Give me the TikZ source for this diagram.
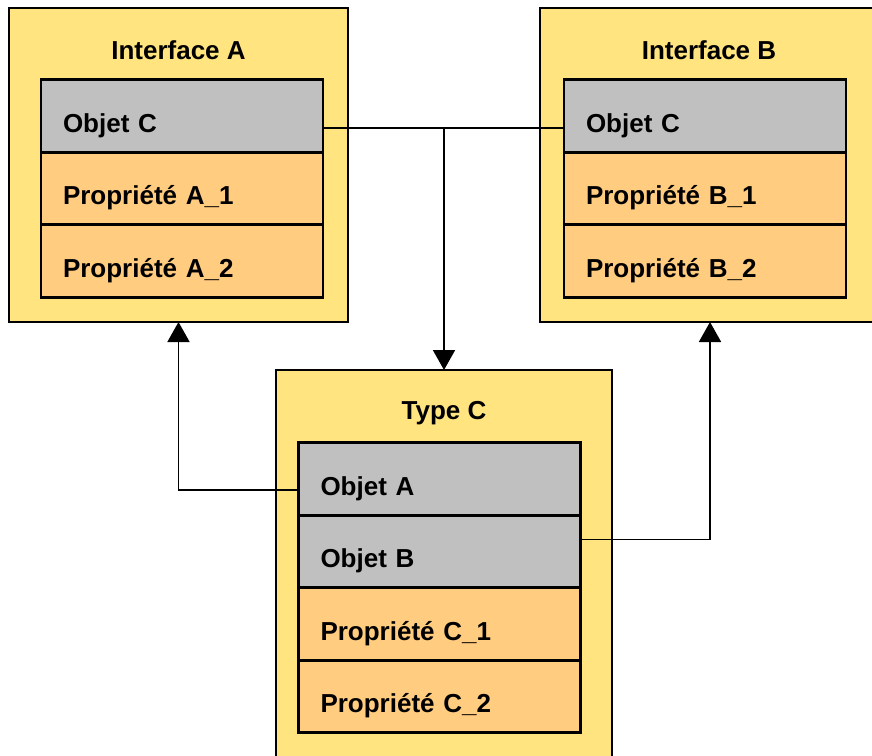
\documentclass[tikz,border=0pt]{standalone}
\usepackage{fontspec}
\setmainfont{Liberation Sans}
\usetikzlibrary{positioning,arrows.meta}
\definecolor{colorbox} {RGB}{255,228,128}
\definecolor{colorobj} {RGB}{192,192,192}
\definecolor{colorprop}{RGB}{255,204,128}

\begin{document}
\begin{tikzpicture}[
    x=0.5pt, y=-0.5pt,
    node distance = 0pt,
    font={\fontsize{13pt}{15pt}\selectfont\bfseries},
    container/.style={draw,line width=1.3pt,fill=colorbox,rectangle,outer sep=0pt},
    heading/.style={inner sep=0pt},
    member/.style={draw,line width=1.3pt,rectangle,outer sep=0pt,text width=119pt,inner xsep=11pt,align=left,minimum height=36.25pt,text height=19pt,text depth=3pt},
    objet/.style={member,fill=colorobj},
    prop/.style={member,fill=colorprop},
    link/.style={line width=0.9pt},
    arrow/.style={link,-{Triangle[width=11pt,length=10pt]}},
]

    \useasboundingbox (0,0) rectangle (872,755);
    \clip (0,0) rectangle (872,755);

    % Containers
    \node[container, minimum width=169.5pt, minimum height=157pt] (ifA)   at (178.5,165) {};
    \node[container, minimum width=170pt,   minimum height=157pt] (ifB)   at (710,165)   {};
    \node[container, minimum width=168pt,   minimum height=205pt] (typeC) at (444,575)   {};

    \node[heading] (ifAtitle)   at (178.5,50) {Interface A};
    \node[heading] (ifBtitle)   at (709,50)   {Interface B};
    \node[heading] (typeCtitle) at (444,413)  {Type C};

    % Interface A
    \node[objet] (ifAobj) at (182,116) {Objet C};
    \node[prop, below=of ifAobj] (ifAp1) {Propriété A\_1};
    \node[prop, below=of ifAp1]  (ifAp2) {Propriété A\_2};

    % Interface B
    \node[objet] (ifBobj) at (705,116) {Objet C};
    \node[prop, below=of ifBobj] (ifBp1) {Propriété B\_1};
    \node[prop, below=of ifBp1]  (ifBp2) {Propriété B\_2};

    % Type C
    \node[objet] (objA) at (439.5,479) {Objet A};
    \node[objet, below=of objA] (objB)  {Objet B};
    \node[prop,  below=of objB] (typeCp1) {Propriété C\_1};
    \node[prop,  below=of typeCp1] (typeCp2) {Propriété C\_2};

    % Connections
    \draw[link] ([yshift=-6pt]ifAobj.east) -- ([yshift=-6pt]ifBobj.west);
    \coordinate (junction) at (444,128);
    \draw[arrow] (junction) -- (typeC.north);
    \draw[arrow] ([yshift=-5.5pt]objA.west) -| (ifA.south);
    \draw[arrow] ([yshift=6pt]objB.east) -| (ifB.south);

\end{tikzpicture}
\end{document}
